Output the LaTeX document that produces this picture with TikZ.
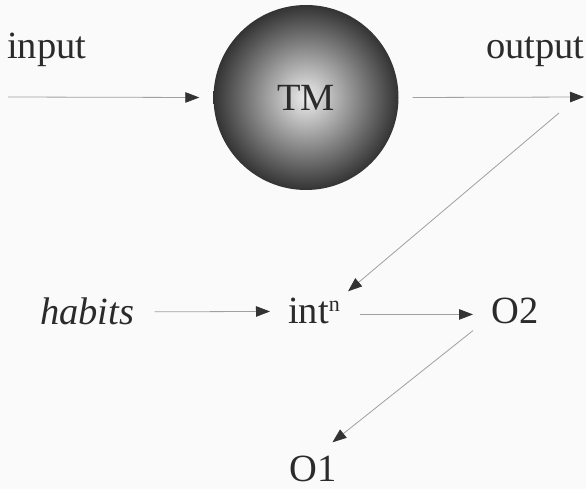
\documentclass[tikz,border=0pt]{standalone}
\usepackage{fontspec}
\setmainfont{Liberation Serif}
\usetikzlibrary{arrows.meta}
\definecolor{txt}{HTML}{2B2B2B}
\definecolor{ln}{HTML}{A0A0A0}
\definecolor{tip}{HTML}{333333}
\begin{document}
\begin{tikzpicture}[x=1pt,y=-1pt,
  lbl/.style={inner sep=0pt,anchor=base west,text=txt,font=\fontsize{38.5}{45}\selectfont},
  arr/.style={draw=ln,line width=0.8pt,-{Triangle[length=14pt,width=10.5pt,fill=tip,color=tip]}}]
\fill[white!98!black] (0,0) rectangle (586,489);
\useasboundingbox (0,0) rectangle (586,489);
% TM ball
\shade[inner color=white!93!black,outer color=black!80] (306,97.5) circle (92.5);
\node[inner sep=0pt,text=txt,font=\fontsize{38.5}{45}\selectfont,minimum size=185pt,circle] (tm) at (306,97.5) {TM};
% labels
\node[lbl] (input) at (7,59) {input};
\node[lbl] (output) at (486,59) {output};
\node[lbl] (habits) at (40,324) {\itshape habits};
\node[lbl] (int) at (288,323) {int\raisebox{12pt}{\fontsize{22}{22}\selectfont n}};
\node[lbl] (O2) at (491,323) {O2};
\node[lbl] (O1) at (289,481) {O1};
% free ends
\coordinate (inS) at (8,97);
\coordinate (outE) at (584,97);
\coordinate (dS) at (559,113);
% connectors
\draw[arr] (inS) -- ([xshift=-14pt]tm.west);
\draw[arr] ([xshift=14pt]tm.east) -- (outE);
\draw[arr] (dS) -- ([xshift=8pt,yshift=6pt]int.north east);
\draw[arr] ([xshift=20pt,yshift=-1pt]habits.east) -- ([xshift=-18pt,yshift=-1pt]int.west);
\draw[arr] ([xshift=20pt,yshift=-4pt]int.east) -- ([xshift=-18pt,yshift=-4pt]O2.west);
\draw[arr] ([xshift=-18pt,yshift=-7pt]O2.south west) -- ([xshift=-4pt,yshift=13pt]O1.north east);
\end{tikzpicture}
\end{document}
